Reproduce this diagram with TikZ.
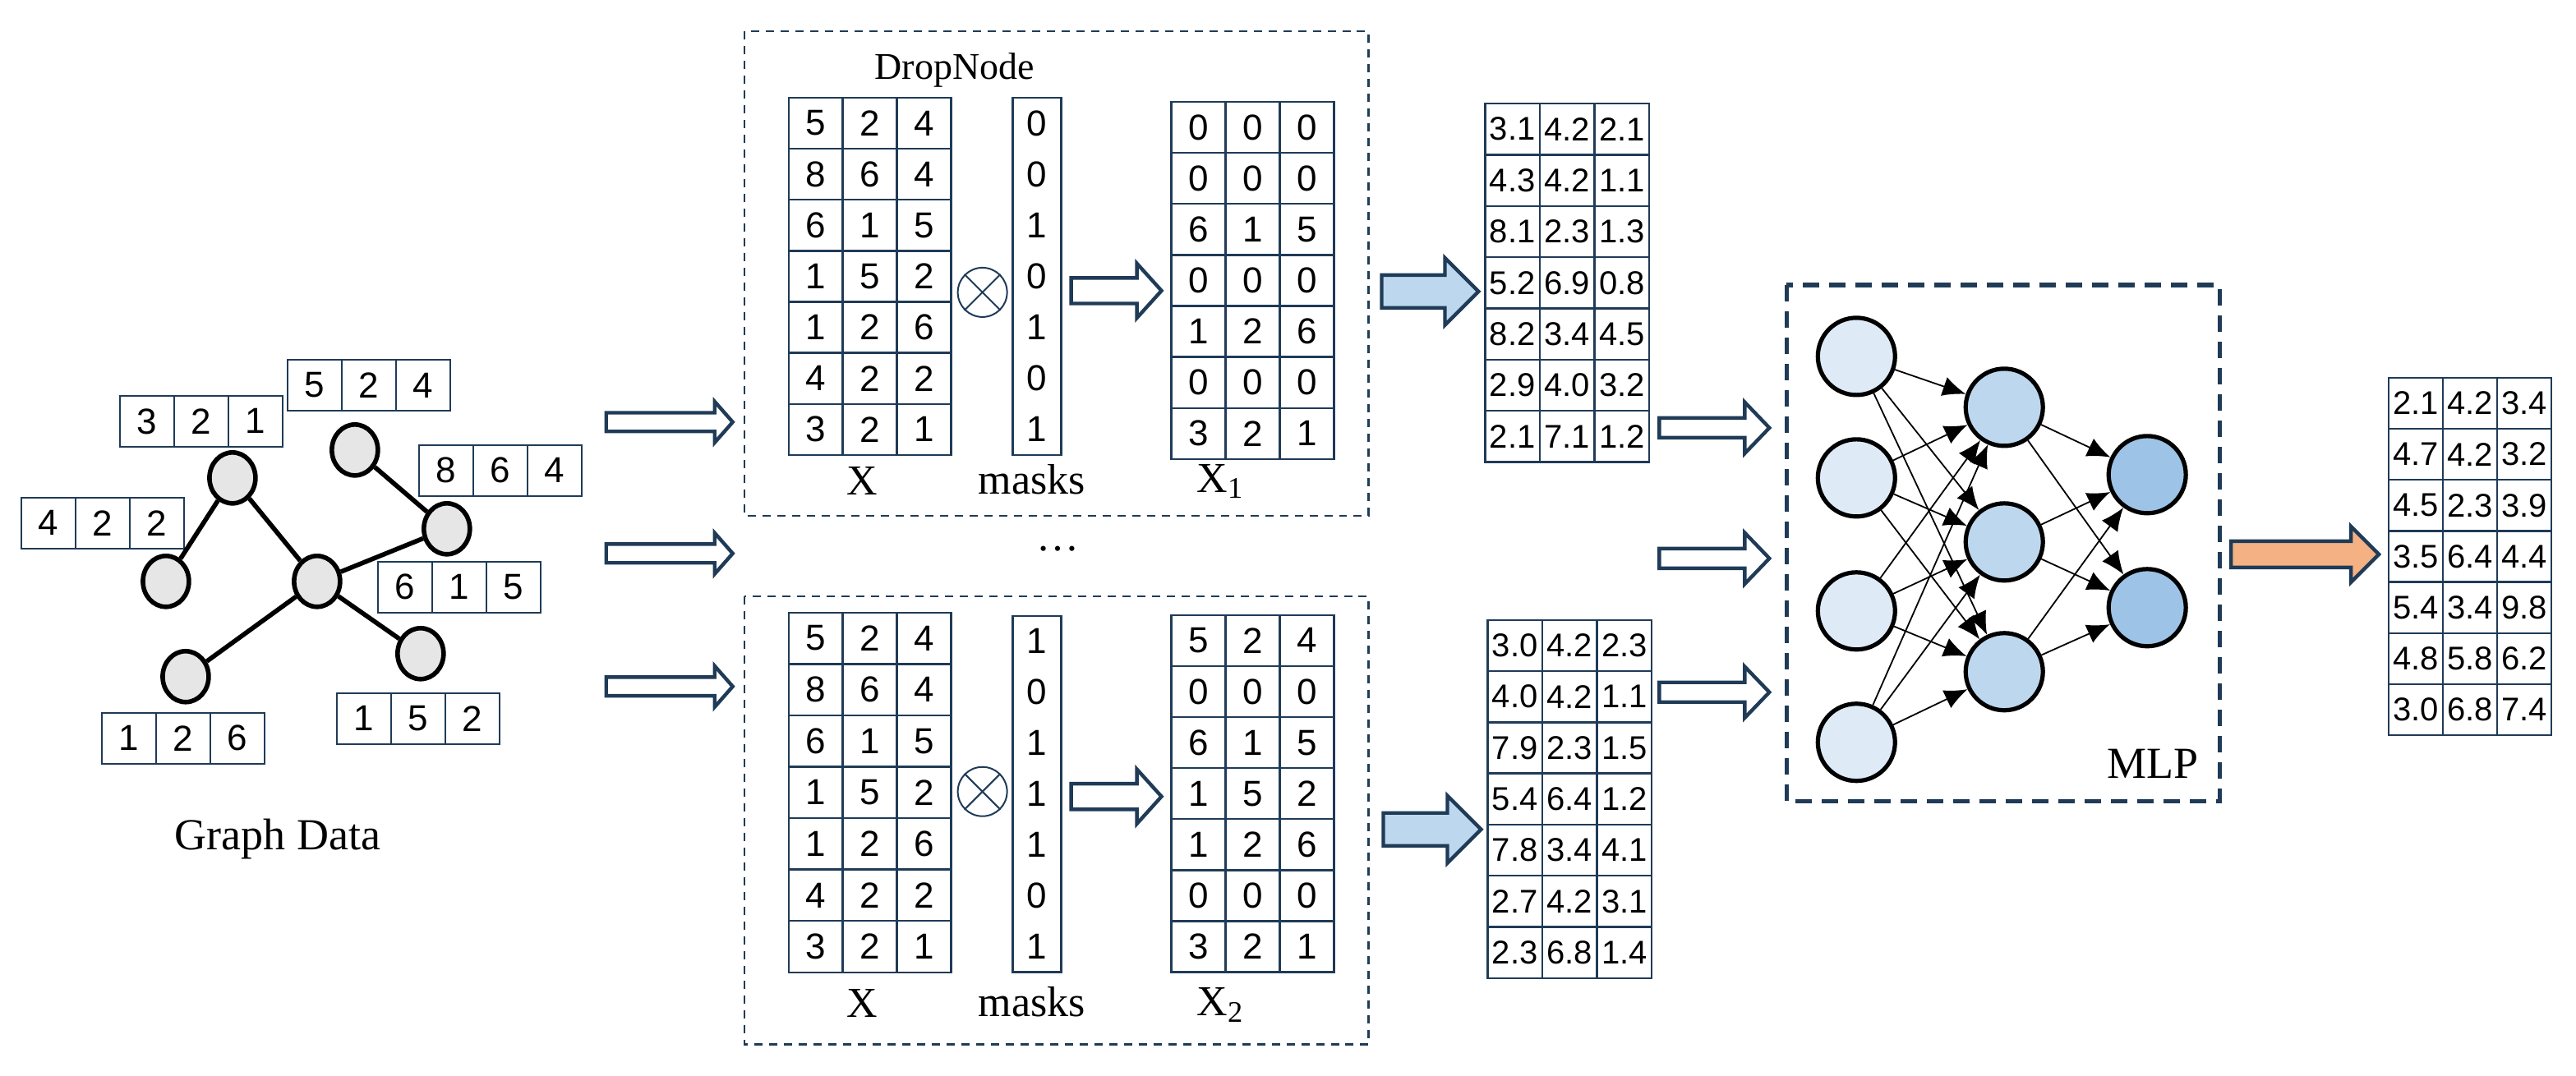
\documentclass[tikz,border=0pt]{standalone}
\usepackage{fontspec}
\setmainfont{Liberation Serif}
\newfontfamily\dig{Liberation Sans}
\usetikzlibrary{shapes.geometric,arrows.meta}
\definecolor{ln}{HTML}{1F3B57}
\definecolor{gn}{HTML}{E6E6E6}
\definecolor{c1}{HTML}{DEEBF7}
\definecolor{c2}{HTML}{BDD7EE}
\definecolor{c3}{HTML}{9DC3E6}
\definecolor{ob}{HTML}{F4B183}
\tikzset{
 cell/.style={draw=ln,line width=0.6pt,inner sep=0pt,font=\dig\fontsize{11}{11}\selectfont},
 gnode/.style={ellipse,draw=black,fill=gn,line width=1.4pt,minimum width=14pt,minimum height=15.5pt,inner sep=0pt},
 gedge/.style={line width=1.4pt,black},
 nn/.style={circle,draw=black,line width=1.3pt,minimum size=23.5pt,inner sep=0pt},
 nedge/.style={black,line width=0.45pt,-{Latex[length=7pt,width=6pt]}},
 lab/.style={font=\fontsize{13}{13}\selectfont,inner sep=0pt},
 dbox/.style={draw=ln,line width=0.6pt,dash pattern=on 2.5pt off 2pt},
 barrow/.style={draw=ln,line width=1.1pt,line join=miter},
 decimal/.style={cell/.append style={font=\dig\fontsize{10}{10}\selectfont}},
}
% #1 name, #2 left, #3 top, #4 col width, #5 row height, #6 rows
\newcommand\mtx[6]{%
 \foreach \r [count=\j] in {#6}{%
  \foreach \v [count=\i] in \r {%
   \node[cell,minimum width=#4*0.5pt,minimum height=#5*0.5pt] (#1-\j-\i) at ({#2+(\i-0.5)*#4},{#3+(\j-0.5)*#5}) {\v};
 }}}
% block arrow: #1 x start, #2 x end, #3 y, #4 shaft half, #5 head half, #6 head start, #7 fill
\newcommand\blk[7]{%
 \draw[barrow,fill=#7] (#1,#3-#4) -- (#6,#3-#4) -- (#6,#3-#5) -- (#2,#3) -- (#6,#3+#5) -- (#6,#3+#4) -- (#1,#3+#4) -- cycle;}
\begin{document}
\begin{tikzpicture}[x=0.5pt,y=-0.5pt]
\useasboundingbox (0,0) rectangle (1568,655);
% ---------- graph ----------
\mtx{ga}{175}{219}{33}{31}{{5,2,4}}
\mtx{gb}{73}{241}{33}{31}{{3,2,1}}
\mtx{gc}{13}{303}{33}{31}{{4,2,2}}
\mtx{gd}{255}{271}{33}{31}{{8,6,4}}
\mtx{ge}{230}{342}{33}{31}{{6,1,5}}
\mtx{gf}{205}{422}{33}{31}{{1,5,2}}
\mtx{gg}{62}{434}{33}{31}{{1,2,6}}
\node[gnode] (n1) at (141.5,291) {};
\node[gnode] (n2) at (216,274) {};
\node[gnode] (n3) at (101,354) {};
\node[gnode] (n4) at (193,354) {};
\node[gnode] (n5) at (272,322) {};
\node[gnode] (n6) at (113,412) {};
\node[gnode] (n7) at (256,398) {};
\draw[gedge] (n1)--(n3) (n1)--(n4) (n2)--(n5) (n5)--(n4) (n4)--(n6) (n4)--(n7);
\node[font=\fontsize{13.5}{13.5}\selectfont] (gl) at (169,511) {Graph Data};
% arrows from graph
\blk{369}{446}{257}{5.7}{12.5}{435}{white}
\blk{369}{446}{337}{5.7}{12.5}{435}{white}
\blk{369}{446}{418}{5.7}{12.5}{435}{white}
% ---------- top DropNode box ----------
\draw[dbox] (453,19) rectangle (833,314);
\node[lab,font=\fontsize{11.5}{11.5}\selectfont] (dn) at (581,42.5) {DropNode};
\mtx{xa}{480}{59.5}{33}{31.07}{{5,2,4},{8,6,4},{6,1,5},{1,5,2},{1,2,6},{4,2,2},{3,2,1}}
\node[draw=ln,line width=0.6pt,minimum width=14.75pt,minimum height=108.75pt,inner sep=0] (ma) at (631.25,168.25) {};
\foreach \v [count=\j] in {0,0,1,0,1,0,1}
 \node[cell,draw=none] (ma-\j) at (631.25,{59.5+(\j-0.5)*31.07}) {\v};
\node[circle,draw=ln,line width=0.5pt,minimum size=15pt,inner sep=0] (oa) at (598,178) {};
\draw[ln,line width=0.5pt] (oa.45)--(oa.225) (oa.135)--(oa.315);
\blk{652}{707}{177}{7.8}{16.6}{692}{white}
\mtx{xb}{713}{62}{33}{31.07}{{0,0,0},{0,0,0},{6,1,5},{0,0,0},{1,2,6},{0,0,0},{3,2,1}}
\node[lab] (la1) at (525,293) {X};
\node[lab] (la2) at (628,292) {masks};
\node[lab] (la3) at (743,293) {X\textsubscript{1}};
% dots
\node[lab] (dots) at (644,334) {\dots};
% ---------- bottom DropNode box ----------
\draw[dbox] (453,363) rectangle (833,636);
\mtx{xc}{480}{373}{33}{31.3}{{5,2,4},{8,6,4},{6,1,5},{1,5,2},{1,2,6},{4,2,2},{3,2,1}}
\node[draw=ln,line width=0.6pt,minimum width=14.75pt,minimum height=108.5pt,inner sep=0] (mb) at (631.25,483.5) {};
\foreach \v [count=\j] in {1,0,1,1,1,0,1}
 \node[cell,draw=none] (mb-\j) at (631.25,{375+(\j-0.5)*31}) {\v};
\node[circle,draw=ln,line width=0.5pt,minimum size=15pt,inner sep=0] (ob1) at (598,482) {};
\draw[ln,line width=0.5pt] (ob1.45)--(ob1.225) (ob1.135)--(ob1.315);
\blk{652}{707}{485}{7.8}{16.6}{692}{white}
\mtx{xd}{713}{374.5}{33}{31.07}{{5,2,4},{0,0,0},{6,1,5},{1,5,2},{1,2,6},{0,0,0},{3,2,1}}
\node[lab] (lb1) at (525,611) {X};
\node[lab] (lb2) at (628,610) {masks};
\node[lab] (lb3) at (743,612) {X\textsubscript{2}};
% ---------- blue arrows + embeddings ----------
\blk{841}{900}{177.5}{10}{20.5}{879.5}{c2}
\blk{842}{901.5}{505}{10}{20.5}{881}{c2}
\begin{scope}[decimal]
\mtx{ea}{904}{63}{33.3}{31.2}{{3.1,4.2,2.1},{4.3,4.2,1.1},{8.1,2.3,1.3},{5.2,6.9,0.8},{8.2,3.4,4.5},{2.9,4.0,3.2},{2.1,7.1,1.2}}
\mtx{eb}{905.5}{377.5}{33.3}{31.15}{{3.0,4.2,2.3},{4.0,4.2,1.1},{7.9,2.3,1.5},{5.4,6.4,1.2},{7.8,3.4,4.1},{2.7,4.2,3.1},{2.3,6.8,1.4}}
\mtx{res}{1454}{230}{33}{31.1}{{2.1,4.2,3.4},{4.7,4.2,3.2},{4.5,2.3,3.9},{3.5,6.4,4.4},{5.4,3.4,9.8},{4.8,5.8,6.2},{3.0,6.8,7.4}}
\end{scope}
\blk{1010}{1077}{260.5}{6}{15.6}{1062}{white}
\blk{1010}{1077}{340}{6}{15.6}{1062}{white}
\blk{1010}{1077}{421.5}{6}{15.6}{1062}{white}
% ---------- MLP ----------
\draw[draw=ln,line width=1.3pt,dash pattern=on 5pt off 3pt] (1087.5,173.5) rectangle (1351,488);
\foreach \y [count=\i] in {217,291,372,452} \node[nn,fill=c1] (i\i) at (1130,\y) {};
\foreach \y [count=\i] in {248,330,409} \node[nn,fill=c2] (h\i) at (1220,\y) {};
\foreach \y [count=\i] in {289,370} \node[nn,fill=c3] (o\i) at (1307,\y) {};
\foreach \a in {1,...,4} \foreach \b in {1,2,3} \draw[nedge] (i\a) -- (h\b);
\foreach \a in {1,2,3} \foreach \b in {1,2} \draw[nedge] (h\a) -- (o\b);
\node[font=\fontsize{13.5}{13.5}\selectfont] (mlp) at (1310.5,465) {MLP};
% ---------- output ----------
\blk{1358}{1448}{337.5}{8}{17}{1431}{ob}
\end{tikzpicture}
\end{document}
